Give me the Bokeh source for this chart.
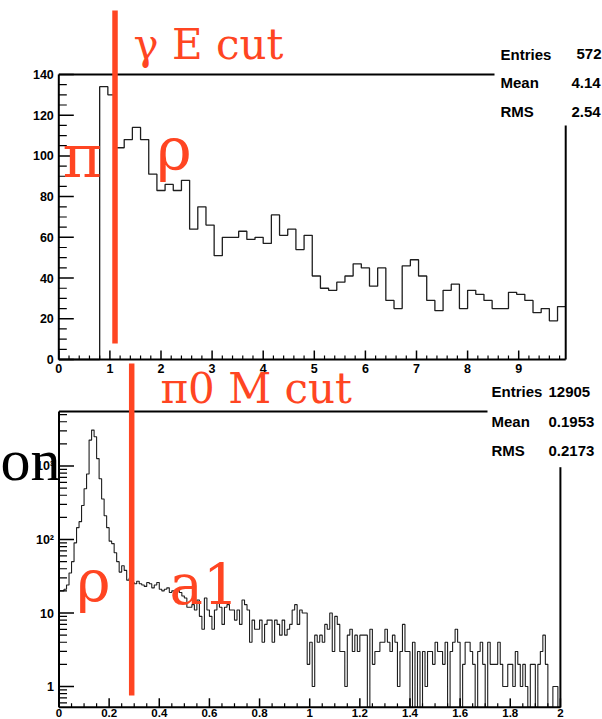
import math
import numpy as np
from bokeh.plotting import figure
from bokeh.models import Range1d, LogScale
from bokeh.core.properties import value
from bokeh.embed import file_html
from bokeh.resources import INLINE

# ---------------- data ----------------
# top panel: photon energy histogram (62 bins of 0.16)
E_BIN_WIDTH = 0.16
E_COUNTS = [0, 0, 0, 0, 0, 134, 130, 104, 108, 114, 108, 91, 83, 86, 83, 88,
            64, 75, 66, 51, 60, 60, 63, 59, 60, 57, 71, 61, 64, 54, 61, 41,
            35, 34, 38, 41, 47, 45, 36, 45, 29, 25, 46, 49, 41, 29, 24, 34,
            37, 25, 34, 32, 29, 25, 25, 33, 32, 29, 23, 25, 19, 26]
E_CUT = 1.1
E_XTICKS = [0, 1, 2, 3, 4, 5, 6, 7, 8, 9]
E_YTICKS = [0, 20, 40, 60, 80, 100, 120, 140]
E_STAT_NAMES = ["Entries", "Mean", "RMS"]
E_STAT_VALUES = ["572", "4.14", "2.54"]

# bottom panel: pi0 mass histogram (200 bins of 0.01), log scale
M_BIN_WIDTH = 0.01
M_COUNTS = [20, 20, 21, 24, 35, 50, 90, 145, 175, 290, 490, 780, 2250, 3080, 2500,
            1260, 670, 356, 210, 145, 95, 88, 66, 50, 36, 44, 38, 28, 30, 26,
            25, 27, 25, 24, 23, 26, 25, 22, 24, 26, 21, 20, 21, 22, 19, 20, 18, 21,
            19, 17, 16, 12, 12, 13, 11, 15, 9, 6, 16, 11, 9, 6, 11, 14, 12, 7, 12, 13,
            11, 11, 8, 11, 7, 15, 13, 11, 4, 8, 6, 6, 8, 4, 7, 8, 8, 4, 8, 7,
            5, 8, 5, 6, 7, 11, 13, 7, 11, 10, 10, 2,
            4, 1, 5, 4, 5, 4, 7, 6, 10, 3, 9, 7, 3, 3, 1, 5, 6, 3, 5, 3,
            5, 5, 5, 0, 6, 2, 3, 3, 4, 4, 6, 4, 3, 5, 4, 1, 3, 7, 3, 3,
            0, 4, 0, 3, 0, 3, 1, 3, 3, 2, 4,
            3, 3, 2, 4, 0, 3, 4, 6, 4, 0, 2, 4, 4, 3, 2, 0, 3, 4, 2, 0,
            4, 2, 2, 2, 4, 2, 1, 1, 2, 2, 1, 3, 2, 1, 2, 1, 0, 2, 2, 0,
            2, 3, 5, 2, 0, 0, 1, 1, 0]
M_CUT = 0.29
M_XTICKS = [0, 0.2, 0.4, 0.6, 0.8, 1, 1.2, 1.4, 1.6, 1.8, 2]
M_XLABELS = ["0", "0.2", "0.4", "0.6", "0.8", "1", "1.2", "1.4", "1.6", "1.8", "2"]
M_XMAX = 2
M_YTICKS = [1, 10, 100, 1000]
M_YLABELS = ["1", "10", "10\u00b2", "10\u00b3"]
M_YMIN, M_YMAX = 0.52, 5500
M_STAT_NAMES = ["Entries", "Mean", "RMS"]
M_STAT_VALUES = ["12905", "0.1953", "0.2173"]

# ---------------- geometry / style ----------------
W, H = 602, 719
RED = "#FF4522"
HIST = "#1e1e1e"
E_X0, E_PX = 58.3, 51.1       # px of x=0, px per unit (top panel)
E_Y0, E_YPX = 359.0, 2.036    # px of y=0, px per count (top panel)
M_X0, M_PX = 58.5, 250.7      # bottom panel x
M_Y1, M_DEC = 686.0, 73.5     # px of y=1, px per decade (bottom panel)


def e_x(px):
    return (px - E_X0) / E_PX


def e_y(py):
    return (E_Y0 - py) / E_YPX


def m_x(px):
    return (px - M_X0) / M_PX


def m_val(py):
    return 10 ** ((M_Y1 - py) / M_DEC)


p = figure(width=W, height=H,
           x_range=Range1d(e_x(0), e_x(W)), y_range=Range1d(e_y(H), e_y(0)),
           extra_x_ranges={"mx": Range1d(m_x(0), m_x(W))},
           extra_y_ranges={"my": Range1d(m_val(H), m_val(0))},
           extra_y_scales={"my": LogScale()},
           x_axis_location=None, y_axis_location=None,
           min_border=0, output_backend="svg", toolbar_location=None)
p.outline_line_color = None
p.grid.visible = False
p.background_fill_color = "white"
p.border_fill_color = "white"

M = dict(x_range_name="mx", y_range_name="my")
LBL = dict(text_font=value("Liberation Sans"), text_font_style="bold", text_color="black")

# ---------------- histograms ----------------
e_edges = np.arange(len(E_COUNTS) + 1) * E_BIN_WIDTH
e_xmax = float(e_edges[-1])
p.step(x=e_edges, y=E_COUNTS + [E_COUNTS[-1]], mode="after", line_color=HIST, line_width=1.3)

m_edges = np.arange(len(M_COUNTS) + 1) * M_BIN_WIDTH
m_plot = [max(c, M_YMIN) for c in M_COUNTS]
p.step(x=m_edges, y=m_plot + [m_plot[-1]], mode="after", line_color=HIST, line_width=1.1, **M)


def ticks(xs, ys, length, angle, width, **kw):
    p.ray(x=xs, y=ys, length=length, length_units="screen", angle=angle,
          line_color="black", line_width=width, **kw)


# ---------------- top panel frame & axes ----------------
E_YTOP = E_YTICKS[-1]
p.segment(x0=[0, 0, 0, e_xmax], y0=[0, 0, E_YTOP, 0],
          x1=[e_xmax, 0, e_x(494), e_xmax], y1=[0, E_YTOP, E_YTOP, e_y(125)],
          line_color="black", line_width=2)
e_yminor = [v for v in range(0, E_YTOP + 1, 5) if v not in E_YTICKS]
e_xminor = [round(0.2 * i, 1) for i in range(50) if (0.2 * i) % 1 > 1e-6 and 1 - (0.2 * i) % 1 > 1e-6]
ticks([0] * len(E_YTICKS), E_YTICKS, 15, 0, 1.5)
ticks([0] * len(e_yminor), e_yminor, 8, 0, 1.2)
ticks(E_XTICKS, [0] * len(E_XTICKS), 9, math.pi / 2, 1.5)
ticks(e_xminor, [0] * len(e_xminor), 4, math.pi / 2, 1.2)
p.text(x=[0] * len(E_YTICKS), y=E_YTICKS, text=[str(v) for v in E_YTICKS], x_offset=-5,
       text_align="right", text_baseline="middle", text_font_size="12.5px", **LBL)
p.text(x=E_XTICKS, y=[0] * len(E_XTICKS), text=[str(v) for v in E_XTICKS], y_offset=9,
       text_align="center", text_baseline="middle", text_font_size="12.5px", **LBL)

# ---------------- bottom panel frame & axes ----------------
p.segment(x0=[0, 0, 0, M_XMAX], y0=[M_YMIN, M_YMIN, M_YMAX, M_YMIN],
          x1=[M_XMAX, 0, m_x(487), M_XMAX], y1=[M_YMIN, M_YMAX, M_YMAX, m_val(466.7)],
          line_color="black", line_width=2, **M)
m_yminor = [0.6, 0.7, 0.8, 0.9] + [d * 10 ** k for k in range(3) for d in range(2, 10)] + [2000, 3000, 4000, 5000]
m_xminor = [round(0.05 * i, 2) for i in range(41) if i % 4]
ticks([0] * len(M_YTICKS), M_YTICKS, 15, 0, 1.5, **M)
ticks([0] * len(m_yminor), m_yminor, 8, 0, 1.2, **M)
ticks(M_XTICKS, [M_YMIN] * len(M_XTICKS), 9, math.pi / 2, 1.5, **M)
ticks(m_xminor, [M_YMIN] * len(m_xminor), 4, math.pi / 2, 1.2, **M)
p.text(x=[0] * len(M_YTICKS), y=M_YTICKS, text=M_YLABELS, x_offset=-5,
       text_align="right", text_baseline="middle", text_font_size="12.5px", **LBL, **M)
p.text(x=M_XTICKS, y=[M_YMIN] * len(M_XTICKS), text=M_XLABELS, y_offset=6,
       text_align="center", text_baseline="middle", text_font_size="11.5px", **LBL, **M)

# ---------------- stats boxes ----------------
e_rows = [e_y(c) for c in (53.5, 82, 111)]
p.text(x=[e_x(500)] * 3, y=e_rows, text=E_STAT_NAMES, text_baseline="middle",
       text_font_size="15px", **LBL)
p.text(x=[e_x(576), e_x(571), e_x(571)], y=e_rows, text=E_STAT_VALUES, text_baseline="middle",
       text_font_size="15px", **LBL)
m_rows = [m_val(c) for c in (391, 421, 450)]
p.text(x=[m_x(491)] * 3, y=m_rows, text=M_STAT_NAMES, text_baseline="middle",
       text_font_size="15px", **LBL, **M)
p.text(x=[m_x(548)] * 3, y=m_rows, text=M_STAT_VALUES, text_baseline="middle",
       text_font_size="15px", **LBL, **M)

# ---------------- cuts and red annotations ----------------
p.segment(x0=[E_CUT], y0=[e_y(343)], x1=[E_CUT], y1=[e_y(10)], line_color=RED, line_width=5.5)
p.segment(x0=[M_CUT], y0=[m_val(695)], x1=[M_CUT], y1=[m_val(363)], line_color=RED,
          line_width=5.5, **M)
RTXT = dict(text_font=value("DejaVu Serif"), text_color=RED, text_baseline="middle")
p.text(x=[e_x(133)], y=[e_y(43.5)], text=["\u03b3 E cut"], text_font_size="42px", **RTXT)
p.text(x=[e_x(62), e_x(156)], y=[e_y(155), e_y(148)], text=["\u03c0", "\u03c1"],
       text_font_size="60px", **RTXT)
p.text(x=[m_x(160)], y=[m_val(387.5)], text=["\u03c00 M cut"], text_font_size="42px", **RTXT, **M)
p.text(x=[m_x(76)], y=[m_val(580)], text=["\u03c1"], text_font_size="58px", **RTXT, **M)
p.text(x=[m_x(169)], y=[m_val(584)], text=["a1"], text_font_size="56px", **RTXT, **M)

# fragment of the slide's title text, overlapping the lower axis
p.text(x=[m_x(0)], y=[m_val(459)], text=["on"], text_font=value("Liberation Serif"),
       text_font_size="60px", text_align="left", text_baseline="middle", text_color="black", **M)

open("out.html", "w").write(file_html(p, INLINE))
